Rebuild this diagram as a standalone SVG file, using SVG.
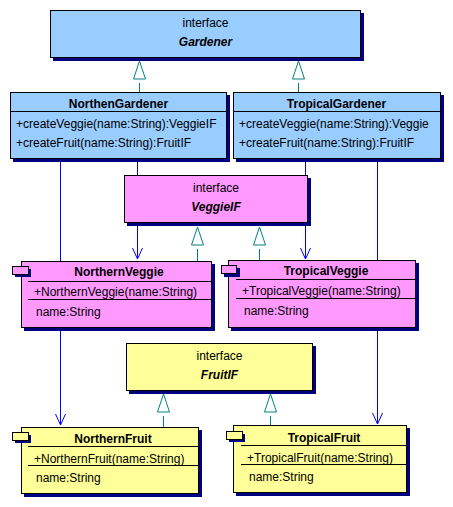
<svg xmlns="http://www.w3.org/2000/svg" width="453" height="507" viewBox="0 0 453 507">
<style>
text{font-family:"Liberation Sans",Arial,sans-serif;font-size:12px;fill:#000}
.t{font-weight:bold;text-anchor:middle}
.i{font-weight:bold;font-style:italic;text-anchor:middle}
.c{text-anchor:middle}
.sh{fill:#000080}
.box{stroke:#000;stroke-width:1}
.blue{fill:#99CCFF}.pink{fill:#FF99FF}.yel{fill:#FFFF99}
.div{stroke:#000;stroke-width:1}
.dep{stroke:#0000FF;stroke-width:1;fill:none}
.real{stroke:#008080;stroke-width:1;fill:none}
</style>
<rect width="453" height="507" fill="#fff"/>
<g id="connectors">
<line class="dep" x1="60.5" y1="159" x2="60.5" y2="425"/>
<polyline class="dep" points="55.5,414 60.5,425 65.5,414"/>
<line class="dep" x1="137.5" y1="159" x2="137.5" y2="259"/>
<polyline class="dep" points="132.5,248 137.5,259 142.5,248"/>
<line class="dep" x1="305.5" y1="159" x2="305.5" y2="259"/>
<polyline class="dep" points="300.5,248 305.5,259 310.5,248"/>
<line class="dep" x1="377.5" y1="159" x2="377.5" y2="424"/>
<polyline class="dep" points="372.5,413 377.5,424 382.5,413"/>
<polygon class="real" points="139.5,61 133.5,79 145.5,79"/>
<line class="real" x1="139.5" y1="83" x2="139.5" y2="92"/>
<polygon class="real" points="298.5,61 292.5,79 304.5,79"/>
<line class="real" x1="298.5" y1="83" x2="298.5" y2="92"/>
<polygon class="real" points="197.5,227 191.5,245 203.5,245"/>
<line class="real" x1="197.5" y1="249" x2="197.5" y2="261"/>
<polygon class="real" points="259.5,227 253.5,245 265.5,245"/>
<line class="real" x1="259.5" y1="249" x2="259.5" y2="260"/>
<polygon class="real" points="163.5,394 157.5,412 169.5,412"/>
<line class="real" x1="163.5" y1="416" x2="163.5" y2="427"/>
<polygon class="real" points="270.5,394 264.5,412 276.5,412"/>
<line class="real" x1="270.5" y1="416" x2="270.5" y2="425"/>
</g>
<g id="Gardener">
<rect class="sh" x="53" y="13" width="311" height="48"/>
<rect class="box blue" x="50.5" y="10.5" width="310" height="47"/>
<text class="c" x="205.5" y="27">interface</text>
<text class="i" x="205.5" y="46">Gardener</text>
</g>
<g id="NorthenGardener">
<rect class="sh" x="13" y="95" width="217" height="67"/>
<rect class="box blue" x="10.5" y="92.5" width="216" height="66"/>
<line class="div" x1="10.5" y1="111.5" x2="226.5" y2="111.5"/>
<text class="t" x="118.5" y="108">NorthenGardener</text>
<text x="16" y="128">+createVeggie(name:String):VeggieIF</text>
<text x="16" y="147">+createFruit(name:String):FruitIF</text>
</g>
<g id="TropicalGardener">
<rect class="sh" x="236" y="95" width="208" height="67"/>
<rect class="box blue" x="233.5" y="92.5" width="207" height="66"/>
<line class="div" x1="233.5" y1="111.5" x2="440.5" y2="111.5"/>
<text class="t" x="336.5" y="108">TropicalGardener</text>
<text x="239" y="128">+createVeggie(name:String):Veggie</text>
<text x="239" y="147">+createFruit(name:String):FruitIF</text>
</g>
<g id="VeggieIF">
<rect class="sh" x="127" y="178" width="184" height="48"/>
<rect class="box pink" x="124.5" y="175.5" width="183" height="47"/>
<text class="c" x="216" y="192">interface</text>
<text class="i" x="216" y="211">VeggieIF</text>
</g>
<g id="NorthernVeggie">
<rect class="sh" x="24" y="264" width="191" height="67"/>
<rect class="box pink" x="21.5" y="261.5" width="190" height="66"/>
<rect class="sh" x="15" y="269" width="16" height="8"/>
<rect class="box pink" x="12.5" y="266.5" width="16" height="8"/>
<line class="div" x1="28" y1="281.5" x2="211.5" y2="281.5"/>
<line class="div" x1="28" y1="299.5" x2="211.5" y2="299.5"/>
<text class="t" x="119" y="276">NorthernVeggie</text>
<text x="34" y="296">+NorthernVeggie(name:String)</text>
<text x="36" y="316">name:String</text>
</g>
<g id="TropicalVeggie">
<rect class="sh" x="231" y="263" width="188" height="68"/>
<rect class="box pink" x="228.5" y="260.5" width="187" height="67"/>
<rect class="sh" x="224" y="268" width="16" height="9"/>
<rect class="box pink" x="221.5" y="265.5" width="15" height="8"/>
<line class="div" x1="236" y1="279.5" x2="415.5" y2="279.5"/>
<line class="div" x1="236" y1="298.5" x2="415.5" y2="298.5"/>
<text class="t" x="326" y="275">TropicalVeggie</text>
<text x="242" y="295">+TropicalVeggie(name:String)</text>
<text x="244" y="315">name:String</text>
</g>
<g id="FruitIF">
<rect class="sh" x="129" y="346" width="187" height="48"/>
<rect class="box yel" x="126.5" y="343.5" width="186" height="47"/>
<text class="c" x="219.5" y="360">interface</text>
<text class="i" x="219.5" y="379">FruitIF</text>
</g>
<g id="NorthernFruit">
<rect class="sh" x="24" y="430" width="178" height="67"/>
<rect class="box yel" x="21.5" y="427.5" width="177" height="66"/>
<rect class="sh" x="15" y="435" width="16" height="8"/>
<rect class="box yel" x="12.5" y="432.5" width="16" height="8"/>
<line class="div" x1="28" y1="446.5" x2="198.5" y2="446.5"/>
<line class="div" x1="28" y1="465.5" x2="198.5" y2="465.5"/>
<text class="t" x="113" y="443">NorthernFruit</text>
<text x="34" y="463">+NorthernFruit(name:String)</text>
<text x="36" y="482">name:String</text>
</g>
<g id="TropicalFruit">
<rect class="sh" x="236" y="428" width="174" height="68"/>
<rect class="box yel" x="233.5" y="425.5" width="173" height="67"/>
<rect class="sh" x="229" y="434" width="16" height="8"/>
<rect class="box yel" x="226.5" y="431.5" width="16" height="8"/>
<line class="div" x1="241" y1="445.5" x2="406.5" y2="445.5"/>
<line class="div" x1="241" y1="464.5" x2="406.5" y2="464.5"/>
<text class="t" x="324" y="442">TropicalFruit</text>
<text x="247" y="462">+TropicalFruit(name:String)</text>
<text x="249" y="481">name:String</text>
</g>
</svg>
